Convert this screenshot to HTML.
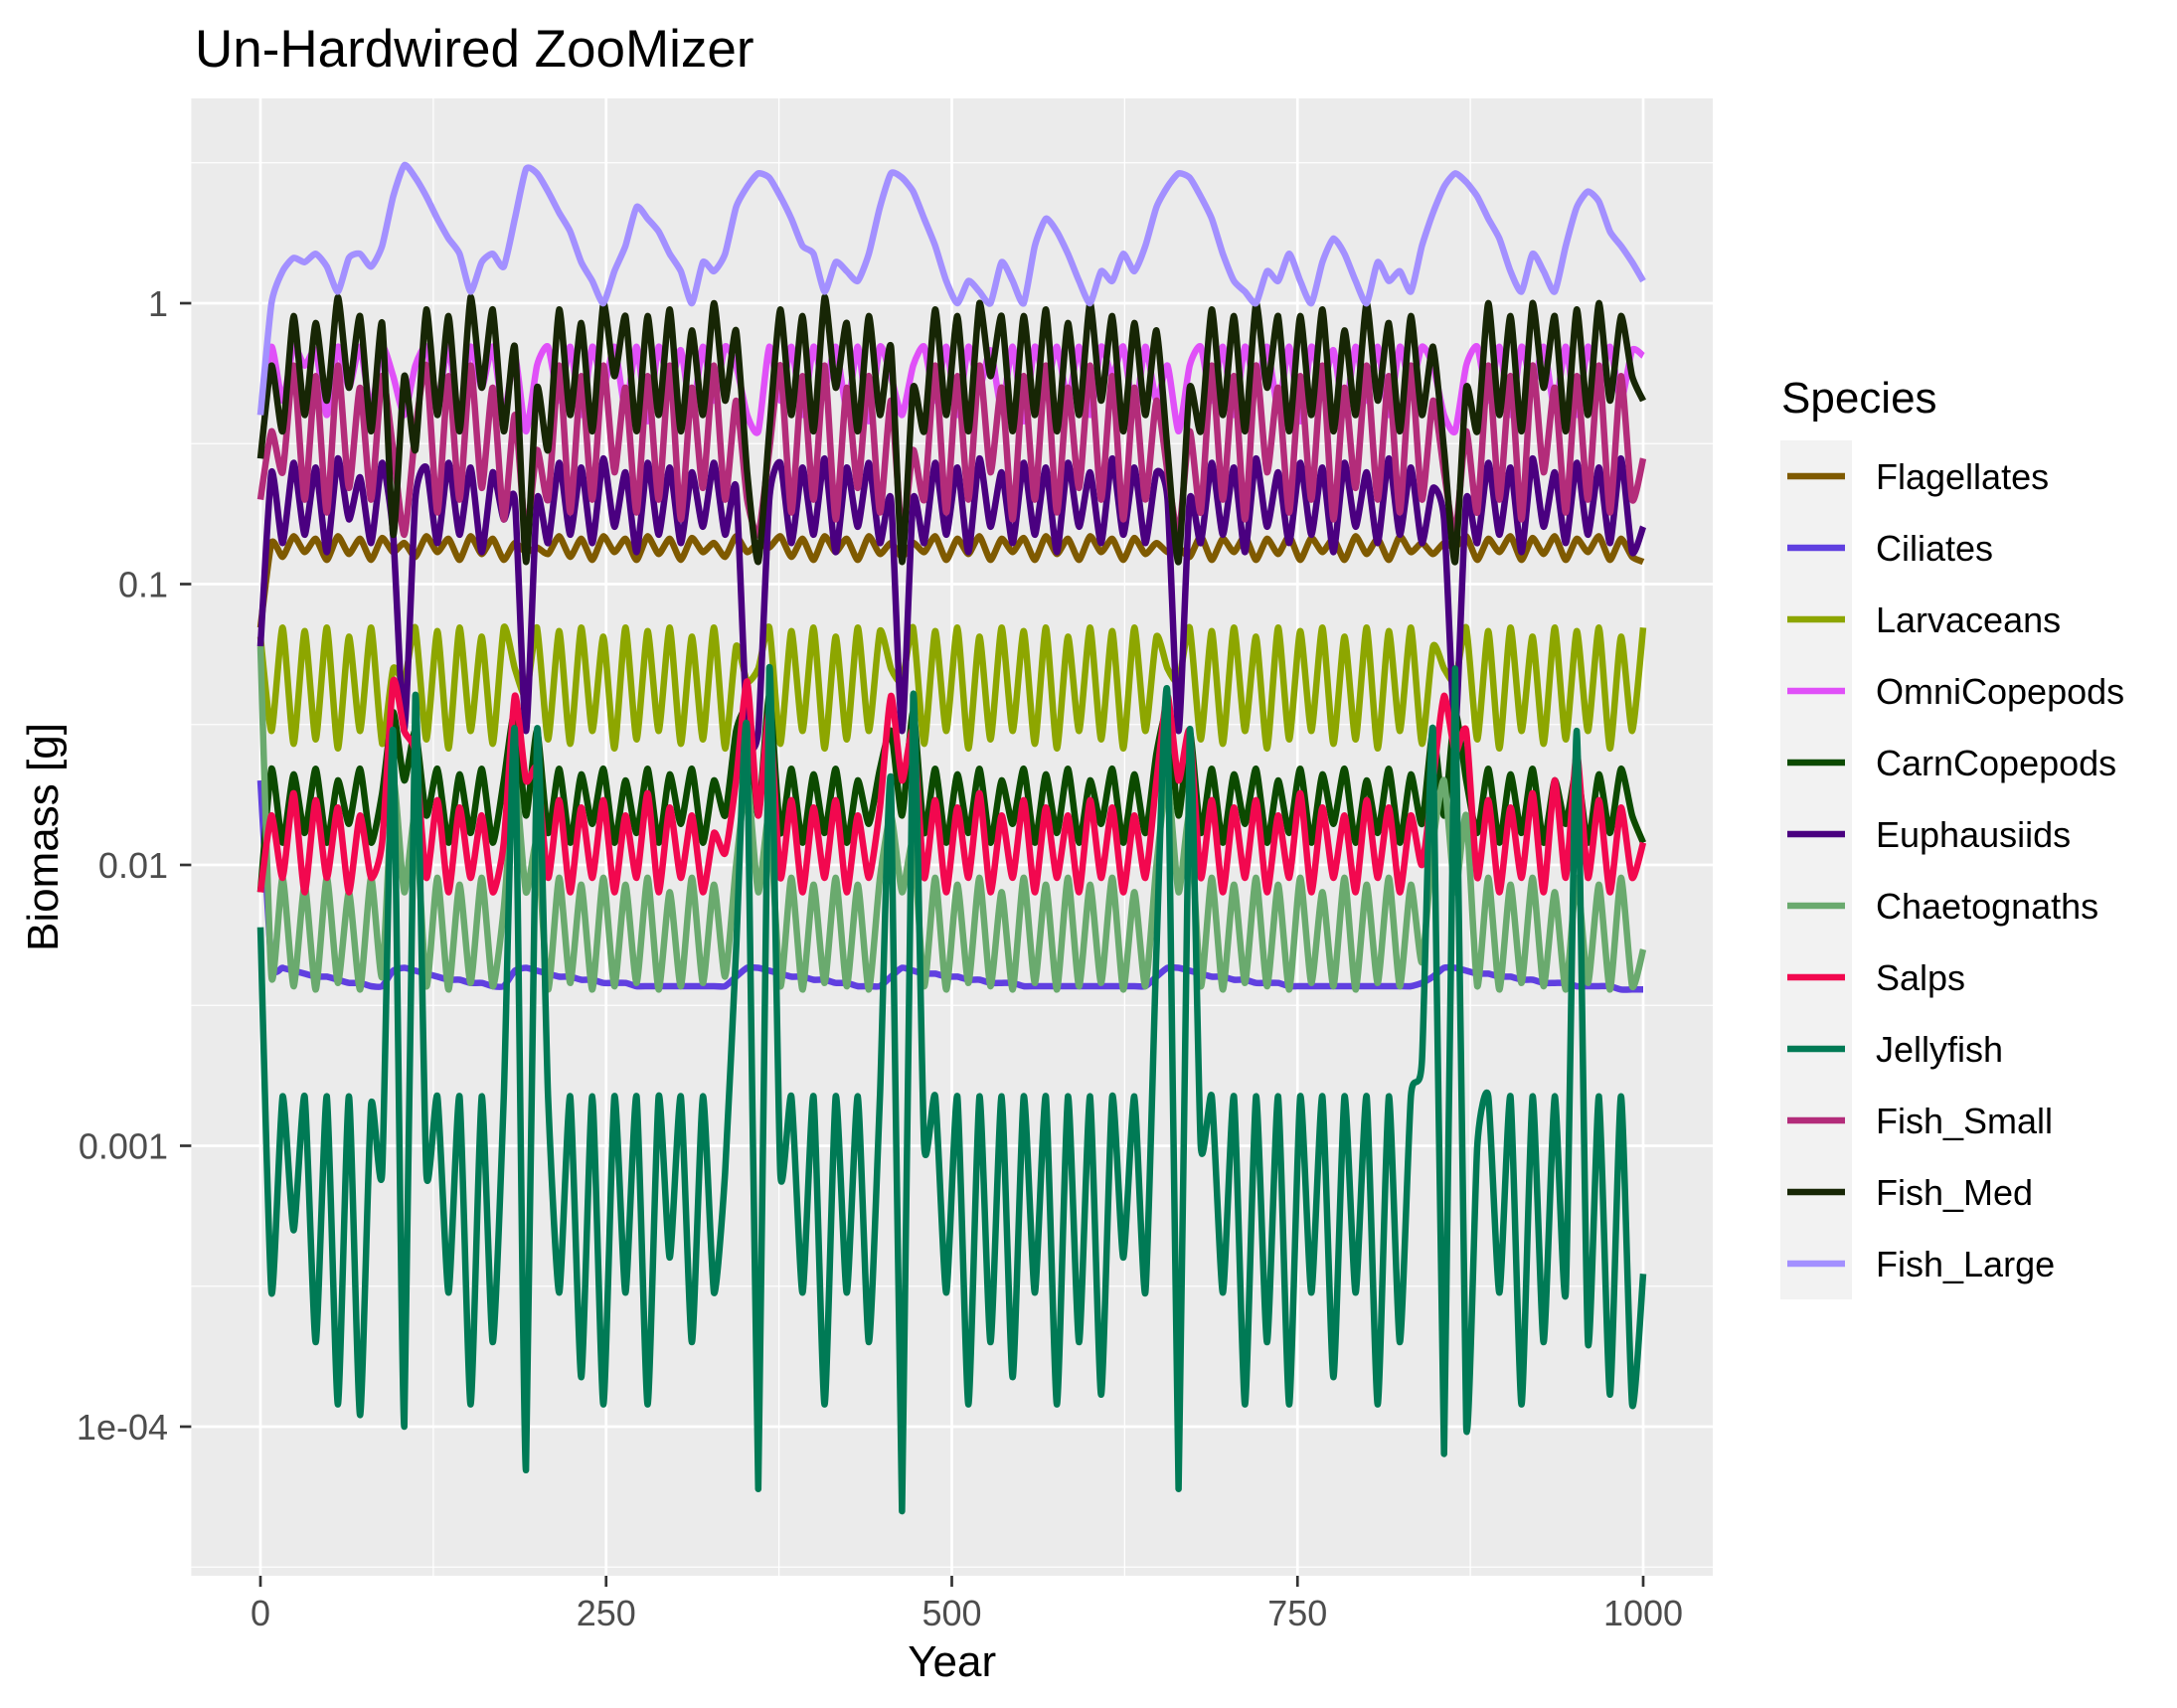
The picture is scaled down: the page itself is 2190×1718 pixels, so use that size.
<!DOCTYPE html>
<html><head><meta charset="utf-8"><title>Un-Hardwired ZooMizer</title>
<style>html,body{margin:0;padding:0;background:#fff}svg{display:block}text{font-family:"Liberation Sans",Arial,sans-serif}</style>
</head><body>
<svg id="chart" xmlns="http://www.w3.org/2000/svg" width="2190" height="1718" viewBox="0 0 2190 1718">
<rect x="0" y="0" width="2190" height="1718" fill="#ffffff"/>
<text x="196" y="67" font-size="53" fill="#000">Un-Hardwired ZooMizer</text>
<rect x="192.4" y="99" width="1530.6" height="1486" fill="#ebebeb"/>
<g id="grid"></g>
<g id="series"></g>
<g id="axes"></g>
<text x="957.7" y="1686" font-size="44" text-anchor="middle" fill="#000">Year</text>
<text transform="translate(58,842) rotate(-90)" font-size="44" text-anchor="middle" fill="#000">Biomass [g]</text>
<g id="legend">
<text x="1792" y="415" font-size="44" fill="#000">Species</text>
<rect x="1791" y="443" width="72" height="864" fill="#f2f2f2"/>
</g>
</svg>
<script>
const species = ["Flagellates","Ciliates","Larvaceans","OmniCopepods","CarnCopepods","Euphausiids","Chaetognaths","Salps","Jellyfish","Fish_Small","Fish_Med","Fish_Large"];
const colors = ["#7f5a00","#6040e0","#8da600","#e050f8","#0c4a00","#4a0080","#6aaa6e","#f2084f","#007a55","#b32c7a","#172605","#a390ff"];
const yTickValues = [1,0.1,0.01,0.001,0.0001];
const yTickLabels = ["1","0.1","0.01","0.001","1e-04"];
const xTickValues = [0,250,500,750,1000];
const xTickLabels = ["0","250","500","750","1000"];
const yearStep = 8;

const Flagellates = [0.07,0.14,0.125,0.148,0.13,0.145,0.122,0.148,0.128,0.145,
0.122,0.146,0.13,0.14,0.125,0.148,0.13,0.145,0.122,0.148,
0.128,0.145,0.122,0.14,0.13,0.135,0.128,0.148,0.125,0.145,
0.122,0.148,0.13,0.145,0.122,0.148,0.128,0.145,0.122,0.146,
0.13,0.14,0.125,0.148,0.13,0.14,0.135,0.148,0.125,0.145,
0.122,0.148,0.13,0.145,0.122,0.148,0.128,0.14,0.125,0.14,
0.13,0.148,0.122,0.145,0.128,0.148,0.122,0.145,0.13,0.146,
0.122,0.148,0.128,0.145,0.122,0.148,0.13,0.145,0.122,0.146,
0.128,0.14,0.13,0.135,0.125,0.148,0.122,0.145,0.13,0.148,
0.122,0.145,0.128,0.148,0.122,0.146,0.13,0.145,0.122,0.148,
0.128,0.145,0.122,0.148,0.13,0.14,0.128,0.14,0.135,0.148,
0.122,0.145,0.13,0.148,0.122,0.146,0.128,0.148,0.122,0.145,
0.13,0.148,0.122,0.145,0.125,0.12];
const Ciliates = [0.02,0.0045,0.0043,0.0042,0.0041,0.004,0.004,0.0039,0.0038,0.0038,
0.0037,0.0037,0.0042,0.0043,0.0042,0.0041,0.004,0.0039,0.0039,0.0038,
0.0038,0.0037,0.0037,0.0042,0.0043,0.0042,0.0041,0.004,0.004,0.0039,
0.0039,0.0038,0.0038,0.0038,0.0037,0.0037,0.0037,0.0037,0.0037,0.0037,
0.0037,0.0037,0.0037,0.004,0.0043,0.0043,0.0042,0.0041,0.004,0.004,
0.0039,0.0039,0.0038,0.0038,0.0037,0.0037,0.0037,0.004,0.0043,0.0042,
0.0041,0.0041,0.004,0.004,0.0039,0.0039,0.0038,0.0038,0.0038,0.0037,
0.0037,0.0037,0.0037,0.0037,0.0037,0.0037,0.0037,0.0037,0.0037,0.0037,
0.0037,0.004,0.0043,0.0043,0.0042,0.0041,0.004,0.004,0.0039,0.0039,
0.0038,0.0038,0.0038,0.0037,0.0037,0.0037,0.0037,0.0037,0.0037,0.0037,
0.0037,0.0037,0.0037,0.0037,0.0037,0.0038,0.004,0.0043,0.0043,0.0042,
0.0041,0.0041,0.004,0.004,0.0039,0.0039,0.0038,0.0038,0.0038,0.0037,
0.0037,0.0037,0.0037,0.0036,0.0036,0.0036];
const Larvaceans = [0.065,0.03,0.07,0.027,0.068,0.028,0.07,0.026,0.065,0.03,
0.07,0.027,0.05,0.045,0.07,0.028,0.068,0.026,0.07,0.03,
0.065,0.027,0.07,0.05,0.04,0.07,0.028,0.068,0.027,0.07,
0.03,0.065,0.026,0.07,0.028,0.068,0.03,0.07,0.027,0.065,
0.028,0.07,0.026,0.06,0.045,0.05,0.07,0.027,0.068,0.03,
0.07,0.026,0.065,0.028,0.07,0.03,0.068,0.05,0.045,0.07,
0.027,0.068,0.03,0.07,0.026,0.065,0.028,0.07,0.03,0.068,
0.027,0.07,0.026,0.065,0.03,0.07,0.028,0.068,0.026,0.07,
0.03,0.065,0.05,0.045,0.07,0.028,0.068,0.027,0.07,0.03,
0.065,0.026,0.07,0.028,0.068,0.03,0.07,0.027,0.065,0.028,
0.07,0.026,0.068,0.03,0.07,0.027,0.06,0.05,0.045,0.07,
0.028,0.068,0.026,0.07,0.03,0.065,0.027,0.07,0.028,0.068,
0.03,0.07,0.026,0.065,0.03,0.07];
const OmniCopepods = [0.4,0.7,0.45,0.7,0.6,0.68,0.4,0.7,0.5,0.7,
0.42,0.7,0.55,0.4,0.6,0.7,0.45,0.7,0.38,0.7,
0.5,0.7,0.4,0.65,0.35,0.6,0.7,0.45,0.7,0.4,
0.7,0.5,0.7,0.42,0.7,0.38,0.7,0.5,0.68,0.4,
0.7,0.45,0.7,0.6,0.4,0.35,0.7,0.45,0.7,0.4,
0.7,0.5,0.7,0.42,0.7,0.38,0.7,0.55,0.4,0.6,
0.7,0.45,0.7,0.4,0.7,0.5,0.68,0.42,0.7,0.38,
0.7,0.5,0.7,0.45,0.7,0.4,0.7,0.55,0.7,0.4,
0.7,0.45,0.6,0.35,0.6,0.7,0.45,0.7,0.4,0.7,
0.5,0.7,0.42,0.7,0.38,0.7,0.5,0.68,0.4,0.7,
0.45,0.7,0.4,0.7,0.5,0.7,0.6,0.4,0.35,0.6,
0.7,0.45,0.7,0.4,0.7,0.5,0.7,0.42,0.7,0.4,
0.7,0.5,0.7,0.45,0.68,0.65];
const CarnCopepods = [0.008,0.022,0.012,0.021,0.013,0.022,0.012,0.02,0.014,0.022,
0.012,0.018,0.035,0.02,0.03,0.015,0.022,0.012,0.021,0.013,
0.022,0.012,0.02,0.035,0.015,0.03,0.013,0.022,0.012,0.021,
0.014,0.022,0.012,0.02,0.013,0.022,0.012,0.021,0.014,0.022,
0.012,0.02,0.015,0.03,0.035,0.015,0.04,0.013,0.022,0.012,
0.021,0.013,0.022,0.012,0.02,0.014,0.022,0.03,0.015,0.035,
0.013,0.022,0.012,0.021,0.013,0.022,0.012,0.02,0.014,0.022,
0.012,0.021,0.013,0.022,0.012,0.02,0.014,0.022,0.012,0.021,
0.013,0.025,0.035,0.015,0.03,0.013,0.022,0.012,0.021,0.014,
0.022,0.012,0.02,0.013,0.022,0.012,0.021,0.014,0.022,0.012,
0.02,0.013,0.022,0.012,0.021,0.014,0.03,0.015,0.035,0.02,
0.013,0.022,0.012,0.021,0.013,0.022,0.012,0.02,0.014,0.022,
0.012,0.021,0.013,0.022,0.015,0.012];
const Euphausiids = [0.06,0.25,0.14,0.27,0.15,0.26,0.13,0.28,0.17,0.24,
0.14,0.27,0.15,0.03,0.2,0.26,0.14,0.27,0.15,0.26,
0.13,0.25,0.17,0.2,0.03,0.2,0.14,0.27,0.15,0.26,
0.14,0.28,0.16,0.25,0.13,0.27,0.15,0.26,0.14,0.25,
0.16,0.27,0.15,0.22,0.03,0.03,0.2,0.27,0.14,0.26,
0.15,0.28,0.13,0.26,0.16,0.27,0.14,0.2,0.03,0.2,
0.14,0.27,0.15,0.26,0.13,0.28,0.16,0.25,0.14,0.27,
0.15,0.26,0.13,0.27,0.16,0.25,0.14,0.28,0.15,0.26,
0.14,0.25,0.2,0.03,0.2,0.14,0.27,0.15,0.26,0.13,
0.28,0.16,0.25,0.14,0.27,0.15,0.26,0.13,0.27,0.16,
0.25,0.14,0.28,0.15,0.26,0.14,0.22,0.17,0.03,0.2,
0.14,0.27,0.15,0.26,0.13,0.28,0.16,0.25,0.14,0.27,
0.15,0.26,0.14,0.28,0.13,0.16];
const Chaetognaths = [0.06,0.004,0.009,0.0037,0.0085,0.0036,0.009,0.0038,0.008,0.0036,
0.009,0.004,0.02,0.008,0.015,0.0037,0.009,0.0036,0.0085,0.0038,
0.009,0.0037,0.007,0.02,0.008,0.012,0.0036,0.009,0.0038,0.0085,
0.0036,0.009,0.0037,0.0085,0.0038,0.009,0.0036,0.008,0.0037,0.009,
0.0038,0.0085,0.004,0.01,0.02,0.008,0.015,0.0037,0.009,0.0036,
0.0085,0.0038,0.009,0.0037,0.0085,0.0036,0.009,0.015,0.008,0.012,
0.0037,0.009,0.0036,0.0085,0.0038,0.009,0.0037,0.008,0.0036,0.009,
0.0038,0.0085,0.0036,0.009,0.0037,0.0085,0.0038,0.009,0.0036,0.008,
0.0037,0.01,0.02,0.008,0.015,0.0037,0.009,0.0036,0.0085,0.0038,
0.009,0.0037,0.0085,0.0036,0.009,0.0038,0.008,0.0037,0.009,0.0036,
0.0085,0.0038,0.009,0.0037,0.0085,0.0045,0.012,0.02,0.008,0.015,
0.0037,0.009,0.0036,0.0085,0.0038,0.009,0.0037,0.008,0.0036,0.009,
0.0038,0.0085,0.0036,0.009,0.0037,0.005];
const Salps = [0.008,0.015,0.009,0.018,0.008,0.017,0.009,0.016,0.008,0.015,
0.009,0.012,0.045,0.03,0.025,0.009,0.017,0.008,0.016,0.009,
0.015,0.008,0.012,0.04,0.02,0.022,0.009,0.017,0.008,0.016,
0.009,0.017,0.008,0.015,0.009,0.018,0.008,0.016,0.009,0.015,
0.008,0.013,0.011,0.02,0.045,0.015,0.035,0.009,0.017,0.008,
0.016,0.009,0.017,0.008,0.015,0.009,0.016,0.04,0.02,0.03,
0.009,0.017,0.008,0.016,0.009,0.018,0.008,0.015,0.009,0.017,
0.008,0.016,0.009,0.015,0.008,0.017,0.009,0.016,0.008,0.015,
0.009,0.02,0.04,0.02,0.03,0.009,0.017,0.008,0.016,0.009,
0.017,0.008,0.015,0.009,0.018,0.008,0.016,0.009,0.015,0.008,
0.017,0.009,0.016,0.008,0.015,0.01,0.02,0.04,0.025,0.03,
0.009,0.017,0.008,0.016,0.009,0.018,0.008,0.02,0.009,0.025,
0.009,0.017,0.008,0.016,0.009,0.012];
const Jellyfish = [0.006,0.0003,0.0015,0.0005,0.0015,0.0002,0.0015,0.00012,0.0015,0.00011,
0.0014,0.0008,0.03,0.0001,0.04,0.0008,0.0015,0.0003,0.0015,0.00012,
0.0015,0.0002,0.0015,0.03,0.00007,0.03,0.0015,0.0003,0.0015,0.00015,
0.0015,0.00012,0.0015,0.0003,0.0015,0.00012,0.0015,0.0004,0.0015,0.0002,
0.0015,0.0003,0.0008,0.005,0.03,0.00006,0.05,0.0008,0.0015,0.0003,
0.0015,0.00012,0.0015,0.0003,0.0015,0.0002,0.0015,0.02,0.00005,0.04,
0.001,0.0015,0.0003,0.0015,0.00012,0.0015,0.0002,0.0015,0.00015,0.0015,
0.0003,0.0015,0.00012,0.0015,0.0002,0.0015,0.00013,0.0015,0.0004,0.0015,
0.0003,0.005,0.04,0.00006,0.03,0.001,0.0015,0.0003,0.0015,0.00012,
0.0015,0.0002,0.0015,0.00012,0.0015,0.0003,0.0015,0.00015,0.0015,0.0003,
0.0015,0.00012,0.0015,0.0002,0.0015,0.002,0.03,0.00008,0.05,0.0001,
0.001,0.0015,0.0003,0.0015,0.00012,0.0015,0.0002,0.0015,0.0003,0.03,
0.0002,0.0015,0.00013,0.0015,0.00012,0.00035];
const Fish_Small = [0.2,0.35,0.25,0.6,0.2,0.55,0.18,0.6,0.22,0.5,
0.2,0.55,0.3,0.15,0.35,0.6,0.18,0.55,0.2,0.6,
0.22,0.5,0.17,0.4,0.15,0.3,0.2,0.6,0.18,0.55,
0.2,0.6,0.25,0.5,0.18,0.55,0.2,0.6,0.17,0.5,
0.22,0.6,0.2,0.45,0.2,0.15,0.3,0.6,0.18,0.55,
0.2,0.6,0.17,0.5,0.22,0.55,0.18,0.45,0.15,0.3,
0.2,0.6,0.18,0.55,0.2,0.6,0.25,0.5,0.17,0.55,
0.2,0.6,0.18,0.5,0.22,0.6,0.2,0.55,0.17,0.5,
0.2,0.45,0.25,0.15,0.35,0.18,0.6,0.2,0.55,0.17,
0.6,0.25,0.5,0.18,0.55,0.2,0.6,0.17,0.5,0.22,
0.6,0.2,0.55,0.18,0.6,0.2,0.45,0.25,0.15,0.35,
0.18,0.6,0.2,0.55,0.17,0.6,0.25,0.5,0.18,0.55,
0.2,0.6,0.18,0.55,0.2,0.28];
const Fish_Med = [0.28,0.6,0.35,0.9,0.4,0.85,0.45,1.05,0.5,0.9,
0.35,0.85,0.15,0.55,0.3,0.95,0.4,0.9,0.35,1.05,
0.5,0.95,0.35,0.7,0.12,0.5,0.3,0.95,0.4,0.85,
0.35,1.0,0.55,0.9,0.35,0.9,0.4,0.95,0.35,0.8,
0.4,1.0,0.45,0.8,0.25,0.12,0.35,0.95,0.4,0.9,
0.35,1.05,0.5,0.85,0.35,0.9,0.4,0.7,0.12,0.5,
0.35,0.95,0.4,0.9,0.35,1.0,0.55,0.9,0.35,0.9,
0.4,0.95,0.35,0.85,0.4,1.0,0.45,0.9,0.35,0.85,
0.4,0.8,0.3,0.12,0.5,0.35,0.95,0.4,0.9,0.35,
1.0,0.5,0.9,0.35,0.9,0.4,0.95,0.35,0.8,0.4,
1.0,0.45,0.85,0.35,0.9,0.4,0.7,0.3,0.12,0.5,
0.35,1.0,0.4,0.9,0.35,1.0,0.5,0.9,0.35,0.95,
0.4,1.0,0.45,0.9,0.55,0.45];
const Fish_Large = [0.4,1.0,1.3,1.45,1.4,1.5,1.35,1.1,1.45,1.5,
1.35,1.6,2.4,3.1,2.8,2.4,2.0,1.7,1.5,1.1,
1.4,1.5,1.35,2.0,3.0,2.9,2.5,2.1,1.8,1.4,
1.2,1.0,1.3,1.6,2.2,2.0,1.8,1.5,1.3,1.0,
1.4,1.3,1.5,2.2,2.6,2.9,2.8,2.4,2.0,1.6,
1.5,1.1,1.4,1.3,1.2,1.5,2.2,2.9,2.8,2.5,
2.0,1.6,1.2,1.0,1.2,1.1,1.0,1.4,1.2,1.0,
1.6,2.0,1.8,1.5,1.2,1.0,1.3,1.2,1.5,1.3,
1.6,2.2,2.6,2.9,2.8,2.4,2.0,1.5,1.2,1.1,
1.0,1.3,1.2,1.5,1.2,1.0,1.4,1.7,1.5,1.2,
1.0,1.4,1.2,1.3,1.1,1.6,2.1,2.6,2.9,2.7,
2.4,2.0,1.7,1.3,1.1,1.5,1.3,1.1,1.6,2.2,
2.5,2.3,1.8,1.6,1.4,1.2];

const seriesValues = [Flagellates,Ciliates,Larvaceans,OmniCopepods,CarnCopepods,Euphausiids,Chaetognaths,Salps,Jellyfish,Fish_Small,Fish_Med,Fish_Large];

const NS = "http://www.w3.org/2000/svg";
const PX0 = 192.4, PX1 = 1723, PY0 = 99, PY1 = 1585;
function xScale(year){ return 262 + year * (1653 - 262) / 1000; }
function yScale(v){ return 305 - 282.5 * Math.log10(v); }
function mk(tag, attrs){ const e = document.createElementNS(NS, tag); for (const k in attrs) e.setAttribute(k, attrs[k]); return e; }

const grid = document.getElementById('grid');
for (let p = -5; p <= 1; p++) {
  const y = yScale(Math.pow(10, p + 0.5));
  if (y < PY0 || y > PY1) continue;
  const l = mk('line', {x1: PX0, x2: PX1, y1: y, y2: y, stroke: '#fff', 'stroke-width': 1.3});
  
  
  grid.appendChild(l);
}
for (let i = 0; i < xTickValues.length - 1; i++) {
  const x = xScale((xTickValues[i] + xTickValues[i + 1]) / 2);
  const l = mk('line', {x1: x, x2: x, y1: PY0, y2: PY1, stroke: '#fff', 'stroke-width': 1.3});
  
  
  grid.appendChild(l);
}
yTickValues.forEach(function(v){
  const y = yScale(v);
  const l = mk('line', {x1: PX0, x2: PX1, y1: y, y2: y, stroke: '#fff', 'stroke-width': 2.7});
  
  
  grid.appendChild(l);
});
xTickValues.forEach(function(v){
  const x = xScale(v);
  const l = mk('line', {x1: x, x2: x, y1: PY0, y2: PY1, stroke: '#fff', 'stroke-width': 2.7});
  
  
  grid.appendChild(l);
});

const axes = document.getElementById('axes');
yTickValues.forEach(function(v, i){
  const y = yScale(v);
  const t = mk('line', {x1: 181, x2: 192.4, y1: y, y2: y, stroke: '#333', 'stroke-width': 2.7});
  
  
  axes.appendChild(t);
  const lab = mk('text', {x: 169, y: y + 13, 'font-size': 36, 'text-anchor': 'end', fill: '#4d4d4d'});
  lab.textContent = yTickLabels[i];
  
  
  axes.appendChild(lab);
});
xTickValues.forEach(function(v, i){
  const x = xScale(v);
  const t = mk('line', {x1: x, x2: x, y1: 1585, y2: 1596, stroke: '#333', 'stroke-width': 2.7});
  
  
  axes.appendChild(t);
  const lab = mk('text', {x: x, y: 1635, 'font-size': 36, 'text-anchor': 'middle', fill: '#4d4d4d'});
  lab.textContent = xTickLabels[i];
  
  
  axes.appendChild(lab);
});

function smoothPath(pts){
  let d = 'M' + pts[0][0].toFixed(1) + ',' + pts[0][1].toFixed(1);
  const t = 0.6 / 6;
  for (let i = 0; i < pts.length - 1; i++) {
    const p0 = pts[Math.max(0, i - 1)], p1 = pts[i], p2 = pts[i + 1], p3 = pts[Math.min(pts.length - 1, i + 2)];
    const c1x = p1[0] + (p2[0] - p0[0]) * t, c1y = p1[1] + (p2[1] - p0[1]) * t;
    const c2x = p2[0] - (p3[0] - p1[0]) * t, c2y = p2[1] - (p3[1] - p1[1]) * t;
    d += 'C' + c1x.toFixed(1) + ',' + c1y.toFixed(1) + ' ' + c2x.toFixed(1) + ',' + c2y.toFixed(1) + ' ' + p2[0].toFixed(1) + ',' + p2[1].toFixed(1);
  }
  return d;
}

const seriesG = document.getElementById('series');
seriesValues.forEach(function(vals, s){
  const pts = vals.map(function(v, i){
    const yr = Math.min(i * yearStep, 1000);
    return [xScale(yr), yScale(v)];
  });
  const p = mk('path', {d: smoothPath(pts), fill: 'none', stroke: colors[s], 'stroke-width': 6.5, 'stroke-linejoin': 'round', 'stroke-linecap': 'butt'});
  
  
  seriesG.appendChild(p);
});

const legend = document.getElementById('legend');
species.forEach(function(name, i){
  const cy = 479 + i * 72;
  const k = mk('line', {x1: 1798, x2: 1856, y1: cy, y2: cy, stroke: colors[i], 'stroke-width': 6.5});
  
  
  legend.appendChild(k);
  const t = mk('text', {x: 1887, y: cy + 13, 'font-size': 36, fill: '#000'});
  t.textContent = name;
  
  
  legend.appendChild(t);
});
</script>
</body></html>
